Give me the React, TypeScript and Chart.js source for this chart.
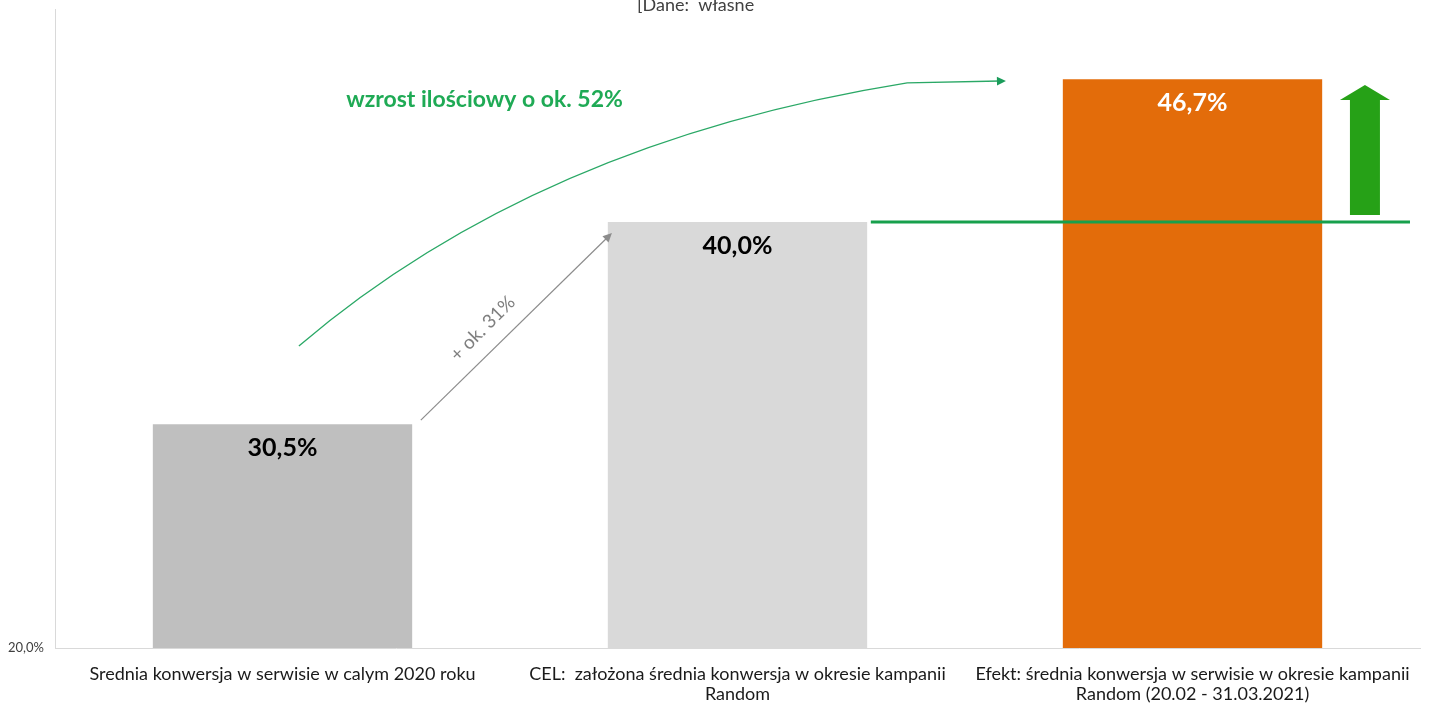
import React, { useEffect, useRef } from "react";
import { Chart, registerables } from "chart.js";

Chart.register(...registerables);

const categories: (string | string[])[] = [
  "Srednia konwersja w serwisie w calym 2020 roku",
  ["CEL:  założona średnia konwersja w okresie kampanii", "Random"],
  ["Efekt: średnia konwersja w serwisie w okresie kampanii", "Random (20.02 - 31.03.2021)"],
];
const values = [30.5, 40.0, 46.7];
const barColors = ["#bfbfbf", "#d9d9d9", "#e36c0a"];
const labelColors = ["#000000", "#000000", "#ffffff"];
const yMin = 20;
const yMax = 50;
const targetValue = 40.0;
const titleText = "[Dane:  własne";
const growthText = "wzrost ilościowy o ok. 52%";
const stepText = "+ ok. 31%";

const FONT = "Lato, 'Open Sans', sans-serif";
const fmt = (v: number) => v.toFixed(1).replace(".", ",") + "%";

// annotation geometry (category index units, value units)
const GEO = {
  grayFrom: [0.304, 30.7],
  grayTo: [0.724, 39.48],
  curveStart: [0.036, 34.18],
  curveCtrl: [0.562, 43.76],
  curveEnd: [1.373, 46.53],
  curveArrow: [1.59, 46.62],
  targetFrom: 1.293,
  targetTo: 2.478,
  blockX: 2.379,
  blockTip: 46.43,
  blockHeadBase: 45.73,
  blockBottom: 40.33,
  growthPos: [0.14, 45.73],
  stepPos: [0.44, 35.0],
};

function arrowHead(ctx: CanvasRenderingContext2D, x1: number, y1: number, x2: number, y2: number, size: number, color: string) {
  const a = Math.atan2(y2 - y1, x2 - x1);
  ctx.save();
  ctx.fillStyle = color;
  ctx.beginPath();
  ctx.moveTo(x2, y2);
  ctx.lineTo(x2 - size * Math.cos(a - 0.45), y2 - size * Math.sin(a - 0.45));
  ctx.lineTo(x2 - size * Math.cos(a + 0.45), y2 - size * Math.sin(a + 0.45));
  ctx.closePath();
  ctx.fill();
  ctx.restore();
}

const overlayPlugin = {
  id: "overlay",
  afterDatasetsDraw(chart: any) {
    const ctx: CanvasRenderingContext2D = chart.ctx;
    const xs = chart.scales.x;
    const ys = chart.scales.y;
    const X = (v: number) => xs.getPixelForValue(v);
    const Y = (v: number) => ys.getPixelForValue(v);

    // bar value labels
    const meta = chart.getDatasetMeta(0);
    ctx.save();
    ctx.font = `bold 25px ${FONT}`;
    ctx.textAlign = "center";
    ctx.textBaseline = "middle";
    meta.data.forEach((bar: any, i: number) => {
      ctx.fillStyle = labelColors[i];
      ctx.fillText(fmt(values[i]), bar.x, bar.y + 24);
    });
    ctx.restore();

    // title (clipped at top)
    ctx.save();
    ctx.font = `18px ${FONT}`;
    ctx.fillStyle = "#404040";
    ctx.textAlign = "left";
    ctx.textBaseline = "alphabetic";
    ctx.fillText(titleText, 637, 11);
    ctx.restore();

    // target line
    ctx.save();
    ctx.strokeStyle = "#17a04c";
    ctx.lineWidth = 3;
    ctx.beginPath();
    ctx.moveTo(X(GEO.targetFrom), Y(targetValue));
    ctx.lineTo(X(GEO.targetTo), Y(targetValue));
    ctx.stroke();
    ctx.restore();

    // gray arrow
    {
      const x1 = X(GEO.grayFrom[0]), y1 = Y(GEO.grayFrom[1]);
      const x2 = X(GEO.grayTo[0]), y2 = Y(GEO.grayTo[1]);
      const a = Math.atan2(y2 - y1, x2 - x1);
      ctx.save();
      ctx.strokeStyle = "#8c8c8c";
      ctx.lineWidth = 1.2;
      ctx.beginPath();
      ctx.moveTo(x1, y1);
      ctx.lineTo(x2 - 6 * Math.cos(a), y2 - 6 * Math.sin(a));
      ctx.stroke();
      ctx.restore();
      arrowHead(ctx, x1, y1, x2, y2, 10, "#8c8c8c");
    }

    // step text
    ctx.save();
    ctx.translate(X(GEO.stepPos[0]), Y(GEO.stepPos[1]));
    ctx.rotate(-Math.PI / 4);
    ctx.font = `19px ${FONT}`;
    ctx.fillStyle = "#808080";
    ctx.textAlign = "center";
    ctx.textBaseline = "middle";
    ctx.fillText(stepText, 0, 0);
    ctx.restore();

    // green curve
    {
      const p0 = [X(GEO.curveStart[0]), Y(GEO.curveStart[1])];
      const p1 = [X(GEO.curveCtrl[0]), Y(GEO.curveCtrl[1])];
      const p2 = [X(GEO.curveEnd[0]), Y(GEO.curveEnd[1])];
      const p3 = [X(GEO.curveArrow[0]), Y(GEO.curveArrow[1])];
      ctx.save();
      ctx.strokeStyle = "#2aa866";
      ctx.lineWidth = 1.3;
      ctx.beginPath();
      ctx.moveTo(p0[0], p0[1]);
      ctx.quadraticCurveTo(p1[0], p1[1], p2[0], p2[1]);
      ctx.lineTo(p3[0] - 6, p3[1]);
      ctx.stroke();
      ctx.restore();
      arrowHead(ctx, p2[0], p2[1], p3[0], p3[1], 10, "#1a9c5a");
    }

    // growth text
    ctx.save();
    ctx.font = `bold 23px ${FONT}`;
    ctx.fillStyle = "#1faa55";
    ctx.textAlign = "left";
    ctx.textBaseline = "middle";
    ctx.fillText(growthText, X(GEO.growthPos[0]), Y(GEO.growthPos[1]));
    ctx.restore();

    // green block arrow
    {
      const cx = X(GEO.blockX);
      const tip = Y(GEO.blockTip);
      const base = Y(GEO.blockHeadBase);
      const bottom = Y(GEO.blockBottom);
      ctx.save();
      ctx.fillStyle = "#26a117";
      ctx.beginPath();
      ctx.moveTo(cx, tip);
      ctx.lineTo(cx + 25, base);
      ctx.lineTo(cx + 15, base);
      ctx.lineTo(cx + 15, bottom);
      ctx.lineTo(cx - 15, bottom);
      ctx.lineTo(cx - 15, base);
      ctx.lineTo(cx - 25, base);
      ctx.closePath();
      ctx.fill();
      ctx.restore();
    }
  },
};

export default function App() {
  const ref = useRef<HTMLCanvasElement>(null);
  useEffect(() => {
    if (!ref.current) return;
    const chart = new Chart(ref.current, {
      type: "bar",
      data: {
        labels: categories,
        datasets: [
          {
            data: values,
            backgroundColor: barColors,
            categoryPercentage: 1,
            barPercentage: 0.57,
          },
        ],
      },
      options: {
        animation: false,
        responsive: true,
        maintainAspectRatio: false,
        layout: { padding: { top: 9, right: 16, left: 0, bottom: 0 } },
        plugins: { legend: { display: false }, tooltip: { enabled: false } },
        scales: {
          x: {
            grid: { display: false },
            border: { display: true, color: "#d9d9d9" },
            ticks: {
              font: { family: FONT, size: 18, lineHeight: 1.12 },
              color: "#1a1a1a",
              padding: 8,
              maxRotation: 0,
              autoSkip: false,
            },
            afterFit: (s: any) => {
              s.height = 58;
            },
          },
          y: {
            min: yMin,
            max: yMax,
            grid: { display: false },
            border: { display: true, color: "#d9d9d9" },
            afterBuildTicks: (s: any) => {
              s.ticks = [{ value: yMin }];
            },
            ticks: {
              font: { family: FONT, size: 13 },
              color: "#404040",
              padding: 3,
              callback: (v: any) => fmt(Number(v)),
            },
            afterFit: (s: any) => {
              s.width = 55;
              s.paddingTop = 0;
              s.paddingBottom = 0;
            },
          },
        },
      },
      plugins: [overlayPlugin],
    });
    return () => chart.destroy();
  }, []);
  return (
    <div style={{ position: "fixed", left: 0, top: 0, width: 1436, height: 706, background: "#fff" }}>
      <canvas ref={ref} />
    </div>
  );
}
